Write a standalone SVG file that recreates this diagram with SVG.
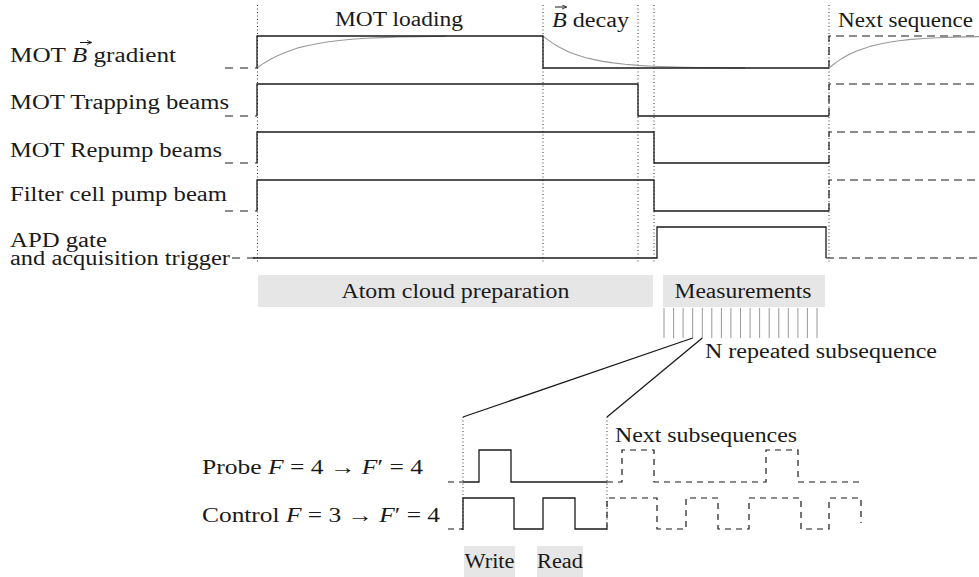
<svg xmlns="http://www.w3.org/2000/svg" width="979" height="577" viewBox="0 0 979 577">
<style>
.w{fill:none;stroke:#1a1a1a;stroke-width:1.3}
.d{fill:none;stroke:#1a1a1a;stroke-width:1.2;stroke-dasharray:8 5}
.ld{fill:none;stroke:#1a1a1a;stroke-width:1.2;stroke-dasharray:8 7}
.sd{fill:none;stroke:#1a1a1a;stroke-width:1.2;stroke-dasharray:6 5}
.dot{fill:none;stroke:#333;stroke-width:1;stroke-dasharray:1 2.5}
.g{fill:none;stroke:#999;stroke-width:1.1}
.tick{stroke:#999;stroke-width:1}
.box{fill:#e6e6e6}
.vec{fill:none;stroke:#1a1a1a;stroke-width:1}
.i{font-style:italic}
</style>
<defs>
<marker id="ah" viewBox="0 0 6 6" refX="5" refY="3" markerWidth="5" markerHeight="5" orient="auto" markerUnits="userSpaceOnUse">
<path d="M0,0.5L6,3L0,5.5" fill="none" stroke="#1a1a1a" stroke-width="1"/>
</marker>
</defs>

<g id="guides">
<path class="dot" d="M257.5,5V262M543,5V262M638,5V262M654,5V262M829,5V262"/>
<path class="dot" d="M463,417V530M607,417V530"/>
</g>

<g font-family="Liberation Serif, Times New Roman, serif" font-size="20" fill="#1a1a1a">

<g id="phase-labels">
<text x="335" y="26" textLength="128" lengthAdjust="spacingAndGlyphs">MOT loading</text>
<text x="552" y="27" textLength="77" lengthAdjust="spacingAndGlyphs"><tspan class="i">B</tspan> decay</text>
<path class="vec" marker-end="url(#ah)" d="M555,7H566"/>
<text x="838" y="27" textLength="135" lengthAdjust="spacingAndGlyphs">Next sequence</text>
</g>

<g id="row-b-gradient">
<text x="10" y="62" textLength="166" lengthAdjust="spacingAndGlyphs">MOT <tspan class="i">B</tspan> gradient</text>
<path class="vec" marker-end="url(#ah)" d="M80,42.5H91"/>
<path class="ld" d="M225,68H257"/>
<path class="g" d="M257,68 L262,64.4 L267,61.2 L272,58.4 L277,55.9 L284,52.9 L292,49.9 L299,47.6 L307,45.7 L317,43.7 L327,42 L339,40.5 L352,39.3 L366,38.3 L382,37.6 L400,37 L420,36.7 L445,36.3"/>
<path class="g" d="M543,36 L548,39.9 L553,43.4 L558,46.4 L563,49.1 L570,52.5 L578,55.3 L585,57.5 L593,59.4 L603,61.4 L613,62.9 L625,64.3 L638,65.4 L652,66.2 L668,66.8 L684,67.2 L700,67.5 L720,67.7 L745,67.9"/>
<path class="w" d="M257,68V36H543V68H829"/>
<path class="d" d="M829,68V36H979"/>
<path class="g" d="M829,68 L834,64 L839,60.4 L844,57.3 L849,54.6 L856,51.3 L864,48.4 L871,46.1 L879,44.3 L889,42.3 L899,40.8 L911,39.4 L924,38.5 L938,37.7 L954,37.1 L979,36.6"/>
</g>

<g id="row-trapping">
<text x="10" y="109" textLength="219" lengthAdjust="spacingAndGlyphs">MOT Trapping beams</text>
<path class="ld" d="M225,116H257"/>
<path class="w" d="M257,116V84H638V116H829"/>
<path class="d" d="M829,116V84H979"/>
</g>

<g id="row-repump">
<text x="10" y="157" textLength="212" lengthAdjust="spacingAndGlyphs">MOT Repump beams</text>
<path class="ld" d="M225,163H257"/>
<path class="w" d="M257,163V132H654V163H829"/>
<path class="d" d="M829,163V132H979"/>
</g>

<g id="row-filter">
<text x="10" y="201" textLength="217" lengthAdjust="spacingAndGlyphs">Filter cell pump beam</text>
<path class="ld" d="M225,211H257"/>
<path class="w" d="M257,211V180H654V211H829"/>
<path class="d" d="M829,211V180H979"/>
</g>

<g id="row-apd">
<text x="10" y="247" textLength="97" lengthAdjust="spacingAndGlyphs">APD gate</text>
<text x="10" y="265" textLength="220" lengthAdjust="spacingAndGlyphs">and acquisition trigger</text>
<path class="ld" d="M232,258H257"/>
<path class="w" d="M253,258H657V227H826V258"/>
<path class="d" d="M826,258H979"/>
</g>

<g id="atom-cloud-preparation">
<rect class="box" x="258" y="275" width="395" height="32"/>
<text x="455.5" y="298" text-anchor="middle" textLength="228" lengthAdjust="spacingAndGlyphs">Atom cloud preparation</text>
</g>

<g id="measurements">
<rect class="box" x="663" y="275" width="162" height="32"/>
<text x="743" y="298" text-anchor="middle" textLength="137" lengthAdjust="spacingAndGlyphs">Measurements</text>
<g class="tick">
<path d="M664,308V338M673.6,308V338M683.1,308V338M692.7,308V338M702.3,308V338M711.8,308V338M721.4,308V338M730.9,308V338M740.5,308V338M750.1,308V338M759.6,308V338M769.2,308V338M778.8,308V338M788.3,308V338M797.9,308V338M807.4,308V338M817,308V338"/>
</g>
<text x="705" y="358" textLength="232" lengthAdjust="spacingAndGlyphs">N repeated subsequence</text>
</g>

<g id="row-probe">
<text x="202" y="474" textLength="221" lengthAdjust="spacingAndGlyphs">Probe <tspan class="i">F</tspan> = 4 → <tspan class="i">F</tspan>′ = 4</text>
<path class="sd" stroke-dasharray="5 5" d="M448,482H463"/>
<path class="w" d="M463,482H479V450H511V482H607"/>
<path class="sd" d="M607,482H622V450H654V482H766V450H798V482H862"/>
</g>

<g id="row-control">
<text x="202" y="522" textLength="238" lengthAdjust="spacingAndGlyphs">Control <tspan class="i">F</tspan> = 3 → <tspan class="i">F</tspan>′ = 4</text>
<path class="sd" stroke-dasharray="5 5" d="M448,529H461"/>
<path class="w" d="M461,529H463V498H514V529H543V498H575V529H607"/>
<path class="sd" d="M607,529V498H657V529H686V498H718V529H749V498H801V529H829V498H861V523"/>
</g>

<g id="next-subsequences">
<text x="615" y="442" textLength="182" lengthAdjust="spacingAndGlyphs">Next subsequences</text>
</g>

<g id="write">
<rect class="box" x="464" y="546" width="51" height="31"/>
<text x="489.5" y="568" text-anchor="middle" textLength="50" lengthAdjust="spacingAndGlyphs">Write</text>
</g>

<g id="read">
<rect class="box" x="537" y="546" width="46" height="31"/>
<text x="560" y="568" text-anchor="middle" textLength="46" lengthAdjust="spacingAndGlyphs">Read</text>
</g>
</g>

<g id="connectors">
<path class="w" stroke-width="1.1" d="M692.7,338L463,417"/>
<path class="w" stroke-width="1.1" d="M702.3,338L607,417"/>
</g>
</svg>
